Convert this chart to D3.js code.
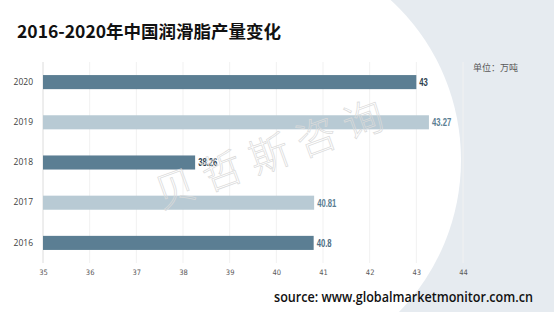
<!DOCTYPE html>
<head>
    <meta charset="utf-8">
    <style>
        * {
            padding: 0;
            margin: 0;
        }
        body {
            background: #fff;
            overflow: hidden;
        }
    </style>
    <script src="https://cdn.jsdelivr.net/npm/d3@7"></script>
</head>

<body>
    <script>

        /////////////////////////////////////////////////////
        // DATA
        /////////////////////////////////////////////////////

        const years = ["2020", "2019", "2018", "2017", "2016"]
        const output = [43, 43.27, 38.26, 40.81, 40.8]
        const xTicks = [35, 36, 37, 38, 39, 40, 41, 42, 43, 44]

        //Styling per bar (alternating dark / light)
        const barColors = ["#5b7e93", "#b8cad4", "#5b7e93", "#b8cad4", "#5b7e93"]
        const labelColors = ["#2f3f4f", "#5b7e93", "#2f3f4f", "#5b7e93", "#4d6e84"]

        /////////////////////////////////////////////////////
        // SETUP SVG
        /////////////////////////////////////////////////////

        const width = 554
        const height = 312

        const svg = d3.select("body").append("svg")
            .attr("width", width)
            .attr("height", height)

        //Grey background with the big white round shape on top
        svg.append("rect")
            .attr("width", width)
            .attr("height", height)
            .attr("fill", "#e6ebf0")

        svg.append("ellipse")
            .attr("cx", 249)
            .attr("cy", 160)
            .attr("rx", 212)
            .attr("ry", 215)
            .attr("fill", "#fff")

        svg.append("rect")
            .attr("width", 250)
            .attr("height", height)
            .attr("fill", "#fff")

        /////////////////////////////////////////////////////
        // SCALES
        /////////////////////////////////////////////////////

        const x = d3.scaleLinear()
            .domain([35, 44])
            .range([43, 463])

        const y = d3.scaleBand()
            .domain(years)
            .range([62, 263])
            .paddingInner(0.65)
            .paddingOuter(0.325)

        /////////////////////////////////////////////////////
        // GRID + AXES
        /////////////////////////////////////////////////////

        //Faint vertical gridlines
        svg.append("g")
            .selectAll("line")
            .data(xTicks.slice(1))
            .join("line")
            .attr("x1", d => x(d))
            .attr("x2", d => x(d))
            .attr("y1", 62)
            .attr("y2", 263)
            .attr("stroke", "#f1f1f1")
            .attr("stroke-width", 1)

        //Left axis line
        svg.append("line")
            .attr("x1", x(35))
            .attr("x2", x(35))
            .attr("y1", 62)
            .attr("y2", 263)
            .attr("stroke", "#dcdcdc")

        //Bottom tick labels
        const xAxis = svg.append("g")
            .attr("transform", "translate(0,266)")
            .call(d3.axisBottom(x).tickValues(xTicks).tickSize(0).tickPadding(4))
        xAxis.select(".domain").remove()
        xAxis.selectAll("text")
            .attr("font-family", "'DejaVu Sans Condensed', 'Liberation Sans', sans-serif")
            .attr("font-size", 7.5)
            .attr("fill", "#595959")

        //Year labels
        const yAxis = svg.append("g")
            .attr("transform", `translate(${x(35)},0)`)
            .call(d3.axisLeft(y).tickSize(0).tickPadding(10))
        yAxis.select(".domain").remove()
        yAxis.selectAll("text")
            .attr("font-family", "'Open Sans', 'Liberation Sans', sans-serif")
            .attr("font-size", 8.5)
            .attr("fill", "#404040")

        /////////////////////////////////////////////////////
        // BARS
        /////////////////////////////////////////////////////

        svg.append("g")
            .selectAll("rect")
            .data(years)
            .join("rect")
            .attr("x", x(35))
            .attr("y", d => y(d))
            .attr("width", (d, i) => x(output[i]) - x(35))
            .attr("height", y.bandwidth())
            .attr("fill", (d, i) => barColors[i])

        //Value labels (condensed bold look, squeezed horizontally)
        svg.append("g")
            .selectAll("text")
            .data(years)
            .join("text")
            .attr("transform", (d, i) => `translate(${x(output[i]) + 3},${y(d) + y.bandwidth() / 2}) scale(0.7,1)`)
            .attr("dy", "0.36em")
            .attr("font-family", "'Liberation Sans', Arial, sans-serif")
            .attr("font-weight", "bold")
            .attr("font-size", 11)
            .attr("fill", (d, i) => labelColors[i])
            .text((d, i) => output[i])

        /////////////////////////////////////////////////////
        // WATERMARK
        /////////////////////////////////////////////////////

        svg.append("text")
            .attr("transform", "translate(274,153) rotate(-20)")
            .attr("text-anchor", "middle")
            .attr("dy", "0.35em")
            .attr("font-family", "'Noto Sans CJK SC', sans-serif")
            .attr("font-weight", 300)
            .attr("font-size", 40)
            .attr("letter-spacing", 10)
            .attr("fill", "none")
            .attr("stroke", "#dadada")
            .attr("stroke-width", 0.7)
            .text("贝哲斯咨询")

        /////////////////////////////////////////////////////
        // TEXTS
        /////////////////////////////////////////////////////

        svg.append("text")
            .attr("x", 17)
            .attr("y", 38)
            .attr("font-family", "'Noto Sans CJK SC', sans-serif")
            .attr("font-weight", "bold")
            .attr("font-size", 17.5)
            .attr("fill", "#111")
            .text("2016-2020年中国润滑脂产量变化")

        svg.append("text")
            .attr("x", 473)
            .attr("y", 71)
            .attr("font-family", "'Noto Sans CJK SC', sans-serif")
            .attr("font-size", 9)
            .attr("fill", "#595959")
            .text("单位：万吨")

        svg.append("text")
            .attr("x", 274)
            .attr("y", 302)
            .attr("font-family", "'Open Sans', 'Liberation Sans', sans-serif")
            .attr("font-weight", 600)
            .attr("font-size", 14)
            .attr("textLength", 259)
            .attr("lengthAdjust", "spacingAndGlyphs")
            .attr("fill", "#111")
            .text("source: www.globalmarketmonitor.com.cn")

    </script>
</body>
